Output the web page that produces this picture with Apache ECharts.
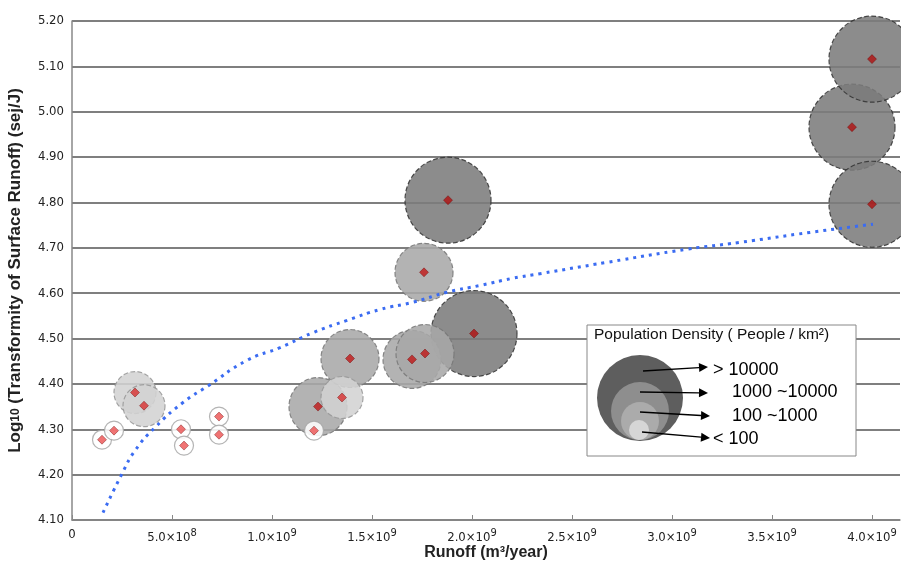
<!DOCTYPE html>
<html>
<head>
<meta charset="utf-8">
<script src="https://cdn.jsdelivr.net/npm/echarts@6/dist/echarts.min.js"></script>
<style>
  html, body { margin: 0; padding: 0; background: #fff; }
  #chart { width: 901px; height: 564px; }
</style>
</head>
<body>
<div id="chart"></div>
<script>
// bubbles grouped by population density class
var bigX = [1.88e9, 2.01e9, 3.9e9, 4.0e9, 4.0e9];
var bigY = [4.805, 4.511, 4.966, 5.116, 4.796];
var midX = [1.23e9, 1.39e9, 1.70e9, 1.765e9, 1.76e9];
var midY = [4.350, 4.456, 4.454, 4.467, 4.646];
var lightX = [0.315e9, 0.36e9, 1.35e9];
var lightY = [4.381, 4.352, 4.370];
var smallX = [0.15e9, 0.21e9, 0.545e9, 0.56e9, 0.735e9, 0.735e9, 1.21e9];
var smallY = [4.277, 4.297, 4.300, 4.264, 4.328, 4.288, 4.297];

// fitted trend
var trendX = [0.155e9, 0.25e9, 0.315e9, 0.415e9, 0.555e9, 0.675e9, 0.875e9, 1.04e9, 1.205e9,
  1.375e9, 1.54e9, 1.705e9, 1.875e9, 2.04e9, 2.205e9, 2.34e9, 2.675e9, 3.075e9, 3.34e9, 3.69e9, 4.005e9];
var trendY = [4.116, 4.202, 4.253, 4.304, 4.359, 4.394, 4.452, 4.480, 4.513,
  4.540, 4.564, 4.580, 4.602, 4.617, 4.633, 4.643, 4.668, 4.697, 4.712, 4.734, 4.752];

var legendTitle = 'Population Density ( People / km\u00b2)';
var legendLabels = ['> 10000', '1000 ~10000', '100 ~1000', '< 100'];

function zip(xs, ys) {
  return xs.map(function (x, i) { return [x, ys[i]]; });
}

var chart = echarts.init(document.getElementById('chart'));

function bubble(name, xs, ys, size, fill, border, btype) {
  return {
    name: name,
    type: 'scatter',
    data: zip(xs, ys),
    symbolSize: size,
    itemStyle: { color: fill, borderColor: border, borderWidth: 1.2, borderType: btype || 'dashed', opacity: 0.88 },
    emphasis: { disabled: true },
    z: 2
  };
}
function dots(name, xs, ys, color) {
  return {
    name: name,
    type: 'scatter',
    data: zip(xs, ys),
    symbol: 'diamond',
    symbolSize: 9,
    itemStyle: { color: color, borderColor: '#6a0000', borderWidth: 0.5 },
    emphasis: { disabled: true },
    z: 4
  };
}

// legend drawn as graphic: concentric circles, arrows, labels
var legendG = [
  { type: 'rect', shape: { x: 587, y: 325, width: 269, height: 131 },
    style: { fill: '#fff', stroke: '#888', lineWidth: 1 }, z: 10 },
  { type: 'text', x: 594, y: 327, z: 11,
    style: { text: legendTitle, font: '15.5px "Liberation Sans", Arial, sans-serif', fill: '#111' } },
  { type: 'circle', shape: { cx: 640, cy: 398, r: 43 }, style: { fill: '#5e5e5e' }, z: 11 },
  { type: 'circle', shape: { cx: 640, cy: 411, r: 29 }, style: { fill: '#8e8e8e' }, z: 11 },
  { type: 'circle', shape: { cx: 640, cy: 421, r: 19 }, style: { fill: '#ababab' }, z: 11 },
  { type: 'circle', shape: { cx: 639, cy: 430, r: 10 }, style: { fill: '#d6d6d6' }, z: 11 }
];
var arrows = [
  [643, 371, 708, 367], [640, 392, 708, 393], [640, 412, 710, 416], [642, 432, 710, 438]
];
var textPos = [[713, 370], [732, 392], [732, 416], [713, 439]];
arrows.forEach(function (a, i) {
  var ang = Math.atan2(a[3] - a[1], a[2] - a[0]);
  var hl = 9, hw = 4.5;
  var bx = a[2] - hl * Math.cos(ang), by = a[3] - hl * Math.sin(ang);
  legendG.push({ type: 'line', z: 12, shape: { x1: a[0], y1: a[1], x2: bx, y2: by },
    style: { stroke: '#000', lineWidth: 1.3 } });
  legendG.push({ type: 'polygon', z: 12, shape: { points: [
    [a[2], a[3]],
    [bx - hw * Math.sin(ang), by + hw * Math.cos(ang)],
    [bx + hw * Math.sin(ang), by - hw * Math.cos(ang)]
  ] }, style: { fill: '#000' } });
  legendG.push({ type: 'text', z: 12, x: textPos[i][0], y: textPos[i][1],
    style: { text: legendLabels[i], font: '18px "Liberation Sans", Arial, sans-serif',
      fill: '#000', verticalAlign: 'middle' } });
});

var option = {
  animation: false,
  grid: { left: 72, right: 1, top: 21, bottom: 44, outerBoundsMode: 'none' },
  xAxis: {
    type: 'value',
    min: 0,
    max: 4.14e9,
    interval: 5e8,
    name: 'Runoff (m\u00b3/year)',
    nameLocation: 'middle',
    nameGap: 25,
    nameMoveOverlap: false,
    nameTextStyle: { fontFamily: '"Liberation Sans", Arial', fontSize: 16, fontWeight: 'bold', color: '#222' },
    axisLine: { lineStyle: { color: '#888', width: 1.5 } },
    axisTick: { inside: true, length: 5, lineStyle: { color: '#888' } },
    splitLine: { show: false },
    axisLabel: {
      showMaxLabel: false,
      margin: 8,
      color: '#222',
      fontFamily: '"DejaVu Sans Condensed", "DejaVu Sans"',
      fontSize: 13,
      formatter: function (v) {
        if (v === 0) return '0';
        var e = Math.floor(Math.log10(v) + 1e-9);
        var m = v / Math.pow(10, e);
        return m.toFixed(1) + '\u00d710{sup|' + e + '}';
      },
      rich: { sup: { fontSize: 11, verticalAlign: 'bottom', padding: [0, 0, 9, 0],
        fontFamily: '"DejaVu Sans Condensed", "DejaVu Sans"', color: '#222' } }
    }
  },
  yAxis: {
    type: 'value',
    min: 4.1,
    max: 5.2,
    interval: 0.1,
    name: 'Log{sub|10} (Transformity of Surface Runoff) (sej/J)',
    nameLocation: 'middle',
    nameGap: 48,
    nameMoveOverlap: false,
    nameTextStyle: {
      fontFamily: '"Liberation Sans", Arial', fontSize: 17, fontWeight: 'bold', color: '#222',
      rich: { sub: { fontSize: 12, fontWeight: 'bold', fontFamily: '"Liberation Sans", Arial', color: '#222' } }
    },
    axisLine: { show: true, lineStyle: { color: '#888', width: 1.5 } },
    axisTick: { show: false },
    splitLine: { lineStyle: { color: '#555', width: 1.5 } },
    axisLabel: {
      margin: 8,
      color: '#222',
      fontFamily: '"DejaVu Sans Condensed", "DejaVu Sans"',
      fontSize: 13,
      formatter: function (v) { return v.toFixed(2); }
    }
  },
  graphic: legendG,
  series: [
    bubble('>10000', bigX, bigY, 86, '#7c7c7c', '#333'),
    bubble('1000~10000', midX, midY, 58, '#a9a9a9', '#777'),
    bubble('100~1000', lightX, lightY, 42, '#d3d3d3', '#999'),
    bubble('<100', smallX, smallY, 19, '#ffffff', '#aaa', 'solid'),
    {
      name: 'trend',
      type: 'line',
      data: zip(trendX, trendY),
      smooth: true,
      showSymbol: false,
      lineStyle: { color: '#3b6cf2', width: 3, type: [3, 5] },
      z: 3
    },
    dots('big dots', bigX, bigY, '#b01010'),
    dots('mid dots', midX, midY, '#c01818'),
    dots('light dots', lightX, lightY, '#d83030'),
    dots('small dots', smallX, smallY, '#ec5050')
  ]
};
chart.setOption(option);
</script>
</body>
</html>
